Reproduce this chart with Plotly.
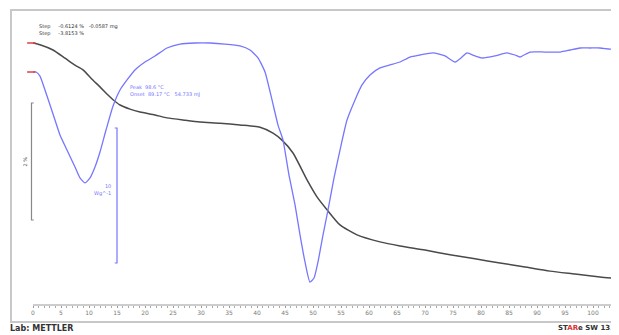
import plotly.graph_objects as go

# ---- data ----
tga_time = [0, 1.25, 3.57, 5.71, 7.5, 8.93, 10.54, 11.96, 13.39, 14.29, 15.54, 17.32, 19.11,
            21.79, 23.93, 27.14, 29.82, 33.39, 36.96, 40.54, 42.86, 44.46, 46.43, 48.93, 50.71,
            52.5, 54.82, 57.86, 61.96, 65.54, 70.0, 74.46, 78.93, 83.39, 87.86, 92.32, 96.79,
            101.25, 104.64]
tga_pct = [100.00, 99.97, 99.88, 99.74, 99.62, 99.54, 99.38, 99.25, 99.11, 99.03, 98.94, 98.87,
           98.82, 98.77, 98.72, 98.68, 98.65, 98.63, 98.60, 98.56, 98.46, 98.34, 98.12, 97.66,
           97.37, 97.15, 96.89, 96.72, 96.60, 96.53, 96.46, 96.38, 96.31, 96.24, 96.17, 96.10,
           96.05, 96.00, 95.97]

dsc_time = [0, 0.54, 1.25, 2.14, 3.04, 3.93, 4.82, 6.07, 7.5, 8.39, 9.29, 10.18, 11.07, 11.96,
            13.04, 14.29, 15.54, 16.79, 18.21, 20.0, 21.79, 23.93, 26.25, 28.93, 31.61, 34.29,
            36.96, 38.75, 40.18, 41.43, 42.68, 43.75, 44.64, 45.71, 46.79, 47.68, 48.57, 49.46,
            50.18, 50.89, 51.79, 52.68, 53.75, 54.82, 56.07, 57.5, 58.75, 60.18, 61.96, 63.75,
            65.54, 67.32, 69.11, 71.43, 73.57, 75.36, 76.61, 77.5, 78.93, 80.18, 82.5, 84.64,
            86.07, 86.96, 88.75, 91.43, 94.11, 95.89, 97.68, 99.46, 101.25, 103.04, 104.64]
dsc_wg = [0.00, 0.00, -0.30, -1.33, -2.44, -3.56, -4.67, -5.78, -7.04, -7.85, -8.22, -7.85,
          -7.04, -5.93, -4.30, -2.52, -1.33, -0.59, 0.15, 0.74, 1.19, 1.78, 2.07, 2.15, 2.15,
          2.07, 1.93, 1.63, 1.04, 0.00, -2.07, -3.93, -5.04, -7.63, -9.85, -12.07, -14.07,
          -15.56, -15.26, -14.07, -12.07, -10.22, -7.85, -5.78, -3.56, -2.07, -0.96, -0.22,
          0.30, 0.52, 0.74, 1.11, 1.26, 1.41, 1.19, 0.74, 1.11, 1.41, 1.19, 1.04, 1.19, 1.41,
          1.26, 1.11, 1.48, 1.48, 1.48, 1.63, 1.78, 1.78, 1.78, 1.70, 1.70]

tick_vals = list(range(0, 110, 5))
tick_text = [str(v) for v in tick_vals]
minor_vals = list(range(0, 106))

# scale bars (data units)
tga_bar_top, tga_bar_len = 98.974, 2.0
dsc_bar_top, dsc_bar_len = -4.148, 10.0

X_RANGE = [-4.464, 104.64]
TGA_RANGE = [95.521, 100.564]
DSC_RANGE = [-17.259, 4.593]

BLUE = "#7676ff"
DARK = "#4a4a4a"

W, H = 611, 327          # page body has an 8 px margin
PLOT_TOP, PLOT_BOT = 2, 297
PH = PLOT_BOT - PLOT_TOP

fig = go.Figure()

fig.add_trace(go.Scatter(x=dsc_time, y=dsc_wg, yaxis="y2", mode="lines",
                         line=dict(color=BLUE, width=1.3, shape="spline", smoothing=0.5),
                         hoverinfo="skip"))
fig.add_trace(go.Scatter(x=tga_time, y=tga_pct, yaxis="y", mode="lines",
                         line=dict(color=DARK, width=1.5, shape="spline", smoothing=0.6),
                         hoverinfo="skip"))

# red start markers
fig.add_trace(go.Scatter(x=[tga_time[0] - 0.3], y=[tga_pct[0]], mode="markers",
                         marker=dict(symbol="line-ew", size=6, line=dict(color="#e04040", width=1.5)),
                         hoverinfo="skip", cliponaxis=False))
fig.add_trace(go.Scatter(x=[dsc_time[0] - 0.3], y=[dsc_wg[0]], yaxis="y2", mode="markers",
                         marker=dict(symbol="line-ew", size=6, line=dict(color="#e04040", width=1.5)),
                         hoverinfo="skip", cliponaxis=False))

# scale bars
bx = -0.27
fig.add_trace(go.Scatter(x=[bx + 0.4, bx, bx, bx + 0.4],
                         y=[tga_bar_top, tga_bar_top, tga_bar_top - tga_bar_len, tga_bar_top - tga_bar_len],
                         mode="lines", line=dict(color="#888888", width=1.2), hoverinfo="skip"))
bx2 = 15.0
fig.add_trace(go.Scatter(x=[bx2 - 0.4, bx2, bx2, bx2 - 0.4],
                         y=[dsc_bar_top, dsc_bar_top, dsc_bar_top - dsc_bar_len, dsc_bar_top - dsc_bar_len],
                         yaxis="y2", mode="lines", line=dict(color=BLUE, width=1.2), hoverinfo="skip"))

fig.update_layout(
    width=W, height=H,
    margin=dict(l=0, r=0, t=PLOT_TOP, b=H - PLOT_BOT),
    paper_bgcolor="white", plot_bgcolor="white",
    showlegend=False,
    xaxis=dict(range=X_RANGE, tickvals=tick_vals, ticktext=tick_text,
               showgrid=False, zeroline=False, showline=False,
               ticks="outside", ticklen=2, tickcolor="#999999", tickwidth=1,
               minor=dict(tickvals=minor_vals, ticks="outside", ticklen=2, tickcolor="#aaaaaa", showgrid=False),
               tickfont=dict(size=6, color="#7a7a7a", family="DejaVu Sans")),
    yaxis=dict(range=TGA_RANGE, visible=False, showgrid=False),
    yaxis2=dict(range=DSC_RANGE, overlaying="y", visible=False, showgrid=False),
    font=dict(family="DejaVu Sans"),
)

# frame and axis baseline
fig.add_shape(type="rect", xref="paper", yref="paper", x0=3 / W, x1=1.02,
              y0=(PLOT_BOT - 314) / PH, y1=1.0, line=dict(color="#c8c8c8", width=2), layer="below")
fig.add_shape(type="line", xref="x", yref="paper", x0=0, x1=X_RANGE[1], y0=0, y1=0,
              line=dict(color="#9a9a9a", width=1))

# texts
fig.add_annotation(x=0.7, y=100.07, xref="x", yref="y", xanchor="left", yanchor="bottom",
                   text="Step     -0.6124 %   -0.0587 mg<br>Step     -3.8153 %", showarrow=False,
                   align="left", font=dict(size=5, color="#333333"))
fig.add_annotation(x=17.0, y=99.05, xref="x", yref="y", xanchor="left", yanchor="bottom",
                   text="Peak  98.6 °C<br>Onset  89.17 °C   54.733 mJ", showarrow=False,
                   align="left", font=dict(size=5, color=BLUE))
fig.add_annotation(x=-1.6, y=tga_bar_top - tga_bar_len / 2, xref="x", yref="y",
                   text="2 %", textangle=-90, showarrow=False, font=dict(size=5, color="#555555"))
fig.add_annotation(x=14.3, y=dsc_bar_top - 4.6, xref="x", yref="y2", xanchor="right",
                   yanchor="middle", text="10<br>Wg^-1", showarrow=False, align="right",
                   font=dict(size=5, color=BLUE))
fig.add_annotation(x=0.0, y=(PLOT_BOT - 320) / PH, xref="paper", yref="paper",
                   xanchor="left", yanchor="middle", text="<b>Lab: METTLER</b>",
                   showarrow=False, font=dict(size=8, color="#333333"))
fig.add_annotation(x=548 / W, y=(PLOT_BOT - 320) / PH, xref="paper", yref="paper",
                   xanchor="left", yanchor="middle",
                   text="<b>ST<span style='color:#e03030'>AR</span>e SW 13.0</b>",
                   showarrow=False, font=dict(size=7, color="#333333"))

fig.write_html("out.html")
